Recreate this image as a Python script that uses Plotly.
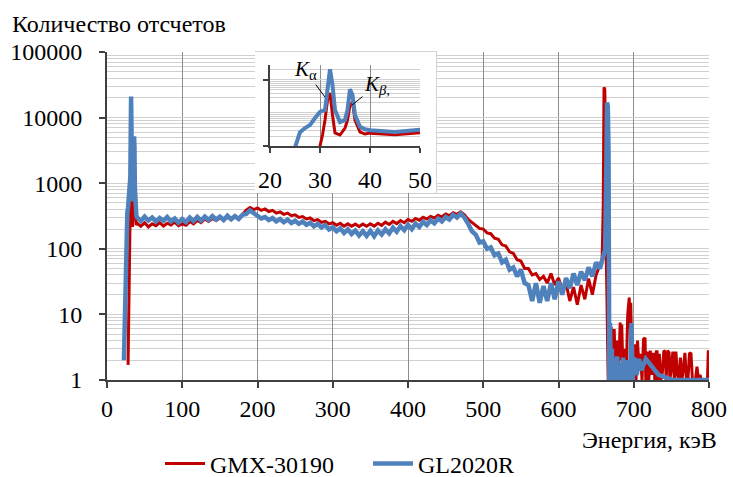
import plotly.graph_objects as go

# ---------------- data ----------------
# shared energy grid (keV) for the continuum part of both spectra
E_MID = [40, 45, 50, 55, 60, 65, 70, 75, 80, 85, 90, 95, 100, 105, 110, 115, 120, 125,
         130, 135, 140, 145, 150, 155, 160, 165, 170, 175, 180, 185, 190, 195, 200, 205,
         210, 215, 220, 225, 230, 235, 240, 245, 250, 255, 260, 265, 270, 275, 280, 285,
         290, 295, 300, 305, 310, 315, 320, 325, 330, 335, 340, 345, 350, 355, 360, 365,
         370, 375, 380, 385, 390, 395, 400, 405, 410, 415, 420, 425, 430, 435, 440, 445,
         450, 455, 460, 465, 470, 475, 480, 485, 490, 495, 500, 505, 510, 515, 520, 525,
         530, 535, 540, 545, 550, 555, 560, 565, 570, 575, 580, 585, 590, 595, 600, 605,
         610, 615, 620, 625, 630, 635, 640, 645, 650, 655]

# GL2020R (blue)
BLUE_LOW_E = [22.5, 24, 25, 26, 27, 28, 29, 30, 31, 31.5, 32, 32.5, 33, 34, 35, 35.5,
              36, 36.5, 37, 38, 39]
BLUE_LOW = [2, 12, 90, 260, 350, 430, 700, 1070, 1230, 5000, 21000, 7000, 1230, 530,
            610, 1230, 5200, 3500, 870, 380, 320]
BLUE_MID = [300, 265, 310, 270, 300, 260, 295, 268, 305, 262, 290, 250, 285, 255, 300, 265,
            305, 270, 310, 275, 315, 280, 310, 275, 320, 282, 315, 285, 330, 340, 385, 350,
            320, 290, 305, 275, 295, 262, 285, 255, 278, 248, 268, 240, 260, 232, 250, 220,
            240, 212, 230, 198, 212, 185, 205, 175, 198, 168, 190, 160, 185, 158, 188, 155,
            190, 165, 198, 172, 210, 182, 222, 192, 232, 200, 242, 215, 258, 230, 272, 245,
            288, 262, 305, 280, 330, 300, 345, 300, 240, 185, 165, 125, 130, 100, 105, 80,
            85, 62, 68, 48, 52, 38, 48, 30, 28, 16, 30, 15, 27, 16, 30, 17,
            32, 20, 36, 25, 42, 28, 45, 33, 52, 38, 62, 50]
BLUE_HIGH_E = [660, 662, 663.5, 664.5, 665.5, 666.5, 667, 667.5, 668.5, 669.5, 671, 672,
               674, 676, 678, 680, 682, 684, 686, 688, 690, 692, 695, 697, 698.5, 701, 704,
               707, 710, 716, 733, 752, 800]
BLUE_HIGH = [80, 95, 1500, 17000, 15000, 3000, 30, 1, 7.4, 1, 3, 1,
             2.2, 1, 2.3, 1, 1.8, 1, 2.2, 1, 2, 1, 1, 7.4, 1, 2.2, 1.2,
             2.1, 1.4, 2.1, 1.2, 1, 1]

# GMX-30190 (red)
RED_LOW_E = [28, 29, 29.5, 30, 30.5, 31, 31.5, 32, 32.5, 33, 34, 35, 35.5, 36, 36.5, 37,
             38, 39]
RED_LOW = [1.7, 15, 45, 100, 215, 610, 2400, 4000, 870, 250, 215, 350, 610, 1700, 2100,
           610, 265, 230]
RED_MID = [245, 220, 250, 215, 240, 225, 250, 222, 245, 230, 255, 225, 240, 228, 260, 240,
           270, 250, 285, 262, 290, 270, 295, 275, 300, 280, 305, 295, 330, 390, 425, 395,
           420, 385, 405, 370, 385, 350, 365, 335, 350, 320, 330, 300, 310, 285, 295, 268,
           278, 252, 262, 240, 250, 228, 245, 222, 240, 220, 238, 218, 238, 220, 240, 222,
           245, 228, 255, 235, 262, 242, 270, 250, 280, 262, 290, 272, 302, 285, 312, 295,
           325, 305, 340, 320, 355, 335, 365, 330, 280, 250, 225, 205, 200, 175, 170, 145,
           140, 115, 110, 90, 85, 68, 65, 50, 50, 40, 42, 34, 38, 30, 42, 28,
           36, 24, 30, 16, 26, 14, 28, 17, 35, 20, 40, 55]
RED_HIGH_E = [658, 659.5, 660.5, 661.5, 662.5, 663.5, 665, 666, 667, 668, 669, 670, 671,
              672, 673, 674, 676, 678, 680, 682, 683, 684, 686, 688, 690, 692, 694, 695,
              696, 697, 698, 700, 702, 703, 705, 707, 709, 711, 713, 715, 716, 718, 720,
              722, 724, 726, 728, 730, 731, 732, 734, 736, 738, 740, 742, 743, 745, 747,
              748, 750, 752, 754, 756, 758, 760, 762, 764, 766, 768, 770, 772, 774, 776,
              778, 780, 782, 784, 786, 788, 790, 792, 794, 796, 798, 799, 800]
RED_HIGH = [70, 500, 29000, 27000, 6000, 80, 3, 1, 1, 5, 2, 6.4, 1.5,
            5, 2, 6, 1, 4, 1.5, 7.5, 2, 7, 1, 3, 1.2, 10, 18, 6,
            15, 3, 1, 1, 3.5, 1, 4, 1.5, 2.5, 1, 4.2, 4.4, 1, 2.7, 1,
            2.8, 1.2, 2.6, 1, 2.7, 2.7, 1, 2.5, 1, 1.3, 2.8, 2.7, 1, 2.8, 2.6,
            1, 1.5, 2.7, 1, 2.7, 1.2, 1, 2.2, 1, 1.5, 2.6, 1, 1, 2.5, 2.6,
            1, 1, 1, 1.6, 1, 1.2, 1, 1, 1, 1, 1, 2.7, 2.7]

Y_TICK_VALS = [1, 10, 100, 1000, 10000, 100000]
Y_TICK_TEXT = ["1", "10", "100", "1000", "10000", "100000"]
INSET_X_TICKS = [20, 30, 40, 50]

NAME_RED = "GMX-30190"
NAME_BLUE = "GL2020R"

assert len(E_MID) == len(BLUE_MID) == len(RED_MID)
assert len(BLUE_LOW_E) == len(BLUE_LOW) and len(BLUE_HIGH_E) == len(BLUE_HIGH)
assert len(RED_LOW_E) == len(RED_LOW) and len(RED_HIGH_E) == len(RED_HIGH)

# ---------------- styling ----------------
FONT = "Liberation Serif"
RED = "#C00000"
BLUE = "#4F81BD"
AXC = "#404040"
GRID_V = "#8c8c8c"
GRID_H = "#d0d0d0"

red_x = RED_LOW_E + E_MID + RED_HIGH_E
red_y = RED_LOW + RED_MID + RED_HIGH
blue_x = BLUE_LOW_E + E_MID + BLUE_HIGH_E
blue_y = BLUE_LOW + BLUE_MID + BLUE_HIGH

fig = go.Figure()
fig.add_trace(go.Scatter(x=red_x, y=red_y, mode="lines", name=NAME_RED,
                         line=dict(color=RED, width=3)))
fig.add_trace(go.Scatter(x=blue_x, y=blue_y, mode="lines", name=NAME_BLUE,
                         line=dict(color=BLUE, width=4.5)))
# white frame behind the inset
fig.add_trace(go.Scatter(x=[], y=[], xaxis="x2", yaxis="y2", showlegend=False,
                         hoverinfo="skip"))
# inset (zoom on the K x-ray lines)
fig.add_trace(go.Scatter(x=red_x, y=red_y, mode="lines", xaxis="x3", yaxis="y3",
                         line=dict(color=RED, width=3), showlegend=False))
fig.add_trace(go.Scatter(x=blue_x, y=blue_y, mode="lines", xaxis="x3", yaxis="y3",
                         line=dict(color=BLUE, width=4), showlegend=False))

# plot area in pixels: left 107, right 709, top 52, bottom 380
PX_L, PX_R, PX_T, PX_B = 107, 709, 52, 380
W, H = PX_R - PX_L, PX_B - PX_T
fx = lambda px: (px - PX_L) / W
fy = lambda py: (PX_B - py) / H

fig.update_layout(
    width=733, height=477,
    margin=dict(l=PX_L, r=733 - PX_R, t=PX_T, b=477 - PX_B, autoexpand=False),
    paper_bgcolor="white", plot_bgcolor="white",
    font=dict(family=FONT, size=24, color="black"),
    showlegend=True,
    legend=dict(orientation="h", xref="container", yref="container",
                x=160 / 733, xanchor="left", y=1 - 464 / 477, yanchor="middle",
                font=dict(size=24), itemwidth=40, entrywidth=153,
                bgcolor="rgba(0,0,0,0)"),
    xaxis=dict(range=[0, 800], tick0=0, dtick=100, showgrid=True, gridcolor=GRID_V,
               gridwidth=1, zeroline=False, showline=True, linecolor=AXC, linewidth=2,
               ticks="outside", ticklen=6, tickwidth=2, tickcolor=AXC, automargin=False),
    yaxis=dict(type="log", range=[0, 5], tickmode="array", tickvals=Y_TICK_VALS,
               ticktext=Y_TICK_TEXT, showgrid=True, gridcolor=GRID_H, gridwidth=1.3,
               minor=dict(dtick="D1", showgrid=True, gridcolor=GRID_H, gridwidth=1.3),
               zeroline=False, showline=True, linecolor=AXC, linewidth=2,
               ticks="outside", ticklen=6, tickwidth=2, tickcolor=AXC, ticklabelstandoff=12,
               automargin=False),
    xaxis2=dict(domain=[fx(255), fx(436)], anchor="y2", range=[0, 1], showgrid=False,
                zeroline=False, showticklabels=False, ticks="", showline=True, side="top",
                linecolor="#d4d4d4", linewidth=1, automargin=False),
    yaxis2=dict(domain=[fy(193), 1.0], anchor="x2", range=[0, 1], showgrid=False,
                zeroline=False, showticklabels=False, ticks="", showline=True, side="right",
                linecolor="#d4d4d4", linewidth=1, automargin=False),
    xaxis3=dict(domain=[fx(270), fx(420)], anchor="y3", range=[20, 50],
                tickmode="array", tickvals=INSET_X_TICKS, showgrid=True, gridcolor=GRID_V,
                gridwidth=1, zeroline=False, showline=True, linecolor=AXC, linewidth=2,
                ticks="outside", ticklen=5, tickwidth=2, tickcolor=AXC,
                ticklabelstandoff=6, automargin=False),
    yaxis3=dict(domain=[fy(146), fy(65)], anchor="x3", type="log", range=[2, 4.45],
                dtick=2, showticklabels=False, showgrid=True, gridcolor=GRID_H,
                gridwidth=1.2,
                minor=dict(dtick="D1", showgrid=True, gridcolor=GRID_H, gridwidth=1.2),
                zeroline=False, showline=True, linecolor=AXC, linewidth=2,
                ticks="outside", ticklen=5, tickwidth=2, tickcolor=AXC, automargin=False),
    annotations=[
        dict(text="Количество отсчетов", xref="paper", yref="paper", x=fx(10), y=fy(24),
             xanchor="left", yanchor="middle", showarrow=False, font=dict(size=24)),
        dict(text="Энергия, кэВ", xref="paper", yref="paper", x=fx(719), y=fy(440),
             xanchor="right", yanchor="middle", showarrow=False, font=dict(size=24)),
        dict(text="<i>K</i><sub>α</sub>", xref="x3", yref="y3", x=31, y=3.48,
             ax=-20, ay=-27, showarrow=True, arrowhead=0, arrowwidth=1,
             arrowcolor="black", font=dict(size=21)),
        dict(text="<i>K</i><sub><i>β</i>,</sub>", xref="x3", yref="y3", x=36.4, y=3.24,
             ax=25, ay=-20, showarrow=True, arrowhead=0, arrowwidth=1,
             arrowcolor="black", font=dict(size=21)),
    ],
)

fig.write_html("out.html", config={"displayModeBar": False},
               post_script="document.body.style.margin='0';document.body.style.padding='0';")
